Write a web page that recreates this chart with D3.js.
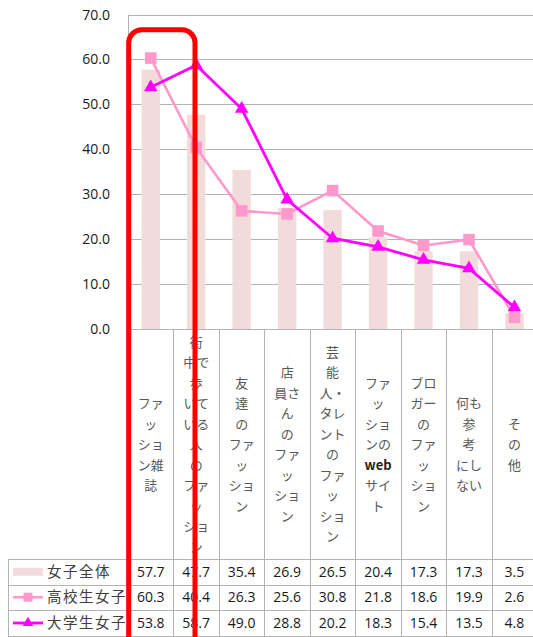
<!DOCTYPE html>
<html><head><meta charset="utf-8">
<script src="https://cdn.jsdelivr.net/npm/d3@7"></script>
<style>body{margin:0;background:#fff;overflow:hidden}</style>
</head><body><svg id="c" width="533" height="637"></svg>
<script>
const categories = ["ファッション雑誌","街中で歩いている人のファッション","友達のファッション","店員さんのファッション","芸能人・タレントのファッション","ファッションのwebサイト","ブロガーのファッション","何も参考にしない","その他"];
const categoryLines = [
  ["ファ","ッ","ショ","ン雑","誌"],
  ["街","中で","歩","いて","いる","人","の","ファ","ッ","ショ","ン"],
  ["友","達","の","ファ","ッ","ショ","ン"],
  ["店","員さ","ん","の","ファ","ッ","ショ","ン"],
  ["芸","能","人・","タレ","ント","の","ファ","ッ","ショ","ン"],
  ["ファ","ッ","ショ","ンの","web","サイ","ト"],
  ["ブロ","ガー","の","ファ","ッ","ショ","ン"],
  ["何も","参","考","にし","ない"],
  ["そ","の","他"]
];
const seriesNames = ["女子全体","高校生女子","大学生女子"];
const allGirls   = [57.7,47.7,35.4,26.9,26.5,20.4,17.3,17.3,3.5];
const highSchool = [60.3,40.4,26.3,25.6,30.8,21.8,18.6,19.9,2.6];
const university = [53.8,58.7,49.0,28.8,20.2,18.3,15.4,13.5,4.8];
const yTicks = [0,10,20,30,40,50,60,70];

(function(){
const C = {bar:"#f2dcdb", hs:"#ff99cc", uni:"#ff00ff", grid:"#b3b3b3", text:"#1a1a1a", label:"#595959"};
const svg = d3.select("#c");
const pLeft = 128, pRight = 537.2, pTop = 14.5, pBottom = 329;
const x = d3.scaleBand().domain(categories).range([pLeft, pRight]).padding(0);
const y = d3.scaleLinear().domain([0,70]).range([pBottom, pTop]);
const bw = x.bandwidth();
const px = v => Math.round(v) + 0.5;

svg.append("g").selectAll("line").data(yTicks).join("line")
  .attr("x1", pLeft).attr("x2", pRight)
  .attr("y1", d => px(y(d))).attr("y2", d => px(y(d)))
  .attr("stroke", C.grid).attr("stroke-width", 1);
svg.append("line").attr("x1", px(pLeft)).attr("x2", px(pLeft)).attr("y1", y(70)).attr("y2", pBottom)
  .attr("stroke", C.grid);
svg.append("g").selectAll("text").data(yTicks).join("text")
  .attr("x", 110).attr("y", d => y(d)).attr("dy", "0.36em")
  .attr("text-anchor", "end").attr("font-family", "Open Sans, sans-serif").attr("font-size", 14)
  .attr("fill", C.text).text(d => d.toFixed(1));

svg.append("g").selectAll("rect").data(allGirls).join("rect")
  .attr("x", (d,i) => x(categories[i]) + bw/2 - 9.2)
  .attr("width", 18.4)
  .attr("y", d => y(d)).attr("height", d => pBottom - y(d))
  .attr("fill", C.bar);

const bounds = d3.range(0, categories.length + 1).map(k => k === categories.length ? pRight : x(categories[k]));
svg.append("g").selectAll("line").data(bounds).join("line")
  .attr("x1", d => px(d)).attr("x2", d => px(d))
  .attr("y1", pBottom).attr("y2", 636)
  .attr("stroke", C.grid);

const lh = 20.5, cy = 444.5;
categoryLines.forEach((lines, i) => {
  const cx = x(categories[i]) + bw/2;
  const y0 = cy - (lines.length - 1) * lh / 2;
  const t = svg.append("text").attr("text-anchor", "middle")
    .attr("font-family", "'Noto Sans CJK JP', sans-serif").attr("font-size", 13)
    .attr("fill", C.label);
  lines.forEach((ln, j) => {
    t.append("tspan").attr("x", cx).attr("y", y0 + j * lh).attr("dy", "0.36em")
      .attr("fill", ln === "web" ? "#222" : C.label)
      .attr("font-weight", ln === "web" ? 600 : 400)
      .text(ln);
  });
});

const line = d3.line().x((d,i) => x(categories[i]) + bw/2).y(d => y(d));
svg.append("path").datum(highSchool).attr("d", line).attr("fill", "none")
  .attr("stroke", C.hs).attr("stroke-width", 2.6);
svg.append("g").selectAll("rect").data(highSchool).join("rect")
  .attr("x", (d,i) => x(categories[i]) + bw/2 - 5.8).attr("y", d => y(d) - 5.8)
  .attr("width", 11.6).attr("height", 11.6).attr("fill", C.hs);
svg.append("path").datum(university).attr("d", line).attr("fill", "none")
  .attr("stroke", C.uni).attr("stroke-width", 2.8);
const tri = d3.symbol(d3.symbolTriangle, 80);
svg.append("g").selectAll("path").data(university).join("path")
  .attr("d", tri)
  .attr("transform", (d,i) => `translate(${x(categories[i]) + bw/2},${y(d)})`)
  .attr("fill", C.uni);

const tLeft = 8, rowY = [559, 584.5, 610, 636];
rowY.forEach(ry => svg.append("line").attr("x1", tLeft).attr("x2", pRight)
  .attr("y1", px(ry)).attr("y2", px(ry)).attr("stroke", C.grid));
svg.append("line").attr("x1", px(tLeft)).attr("x2", px(tLeft)).attr("y1", rowY[0]).attr("y2", 636).attr("stroke", C.grid);

const seriesData = [allGirls, highSchool, university];
seriesData.forEach((vals, r) => {
  const ryc = (rowY[r] + rowY[r+1]) / 2;
  svg.append("g").selectAll("text").data(vals).join("text")
    .attr("x", (d,i) => x(categories[i]) + bw/2).attr("y", ryc).attr("dy", "0.36em")
    .attr("text-anchor", "middle").attr("font-family", "Open Sans, sans-serif").attr("font-size", 14)
    .attr("fill", C.text).text(d => d.toFixed(1));
  const lx1 = 13, lx2 = 43, lm = 28;
  if (r === 0) {
    svg.append("rect").attr("x", lx1).attr("y", ryc - 4).attr("width", lx2 - lx1).attr("height", 8).attr("fill", C.bar);
  } else if (r === 1) {
    svg.append("line").attr("x1", lx1).attr("x2", lx2).attr("y1", ryc).attr("y2", ryc).attr("stroke", C.hs).attr("stroke-width", 2.6);
    svg.append("rect").attr("x", lm - 4.5).attr("y", ryc - 4.5).attr("width", 9).attr("height", 9).attr("fill", C.hs);
  } else {
    svg.append("line").attr("x1", lx1).attr("x2", lx2).attr("y1", ryc).attr("y2", ryc).attr("stroke", C.uni).attr("stroke-width", 2.8);
    svg.append("path").attr("d", d3.symbol(d3.symbolTriangle, 50)).attr("transform", `translate(${lm},${ryc})`).attr("fill", C.uni);
  }
  svg.append("text").attr("x", 47).attr("y", ryc).attr("dy", "0.36em")
    .attr("font-family", "'Noto Sans CJK JP', sans-serif").attr("font-size", 14.5)
    .attr("letter-spacing", 1.5).attr("fill", "#404040").text(seriesNames[r]);
});

svg.append("rect").attr("x", 128.7).attr("y", 29.8).attr("width", 66.3).attr("height", 700)
  .attr("rx", 13).attr("fill", "none").attr("stroke", "#ff0000").attr("stroke-width", 5);
})();
</script></body></html>
